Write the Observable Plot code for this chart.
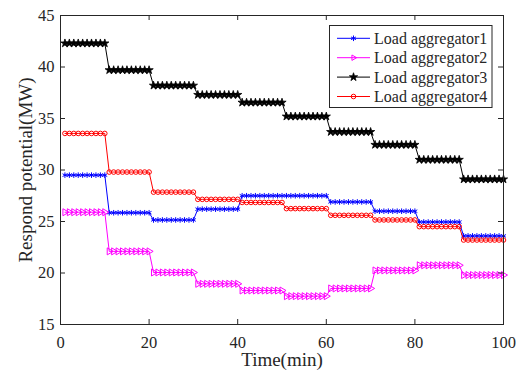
<!DOCTYPE html>
<html><head><meta charset="utf-8">
<script src="https://cdn.jsdelivr.net/npm/d3@7"></script>
<script src="https://cdn.jsdelivr.net/npm/@observablehq/plot@0.6"></script>
<style>body{margin:0;background:#fff}</style>
</head><body><div id="chart"></div>
<script>
const seriesNames = ["Load aggregator1","Load aggregator2","Load aggregator3","Load aggregator4"];
const seriesColors = ["#0000ff","#ff00ff","#000000","#ff0000"];
// level held over each 10-minute interval (minutes 1-10, 11-20, ..., 91-100)
const agg1Levels = [29.5,25.85,25.15,26.2,27.5,27.5,26.9,26.0,24.95,23.6];
const agg2Levels = [25.9,22.1,20.05,18.95,18.3,17.75,18.5,20.25,20.75,19.8];
const agg3Levels = [42.3,39.7,38.2,37.3,36.55,35.2,33.7,32.45,31.0,29.1];
const agg4Levels = [33.55,29.8,27.85,27.15,26.85,26.25,25.6,25.15,24.5,23.2];
const minutes = d3.range(1, 101);
const xTicks = [0,20,40,60,80,100];
const yTicks = [15,20,25,30,35,40,45];
const xLabel = "Time(min)";
const yLabel = "Respond potential(MW)";

const levels = [agg1Levels, agg2Levels, agg3Levels, agg4Levels];
const series = levels.map((lv, i) => minutes.map(t => ({t, v: lv[Math.floor((t - 1) / 10)], s: seriesNames[i]})));

const W = 524, H = 375, mt = 15, mr = 21, mb = 51, ml = 60;
const pw = W - ml - mr, ph = H - mt - mb;
const axisColor = "#262626";
const font = "'Liberation Serif','Times New Roman',serif";

const symbolOpts = [
  {symbol: "asterisk", r: 2.6, stroke: seriesColors[0], fill: "none", strokeWidth: 1},
  {symbol: "triangle", r: 2.6, stroke: seriesColors[1], fill: "none", strokeWidth: 1, rotate: 90},
  {symbol: "star", r: 2.6, stroke: seriesColors[2], fill: seriesColors[2], strokeWidth: 0.8},
  {symbol: "circle", r: 2.3, stroke: seriesColors[3], fill: "none", strokeWidth: 1}
];

const marks = [];
series.forEach((d, i) => {
  marks.push(Plot.line(d, {x: "t", y: "v", stroke: seriesColors[i], strokeWidth: 1}));
  marks.push(Plot.dot(d, {x: "t", y: "v", ...symbolOpts[i]}));
});

const plot = Plot.plot({
  width: W, height: H,
  marginTop: mt, marginRight: mr, marginBottom: mb, marginLeft: ml,
  style: {fontFamily: font, background: "#fff", color: axisColor},
  x: {domain: [0, 100]},
  y: {domain: [15, 45]},
  marks: [
    ...marks,
    Plot.frame({stroke: axisColor, strokeWidth: 1}),
    Plot.tickX(xTicks, {x: d => d, insetTop: ph - 5, stroke: axisColor}),
    Plot.tickX(xTicks, {x: d => d, insetBottom: ph - 5, stroke: axisColor}),
    Plot.tickY(yTicks, {y: d => d, insetRight: pw - 5, stroke: axisColor}),
    Plot.tickY(yTicks, {y: d => d, insetLeft: pw - 5, stroke: axisColor}),
    Plot.axisX({ticks: xTicks, tickSize: 0, tickPadding: 12, fontSize: 16.5, label: null, tickFormat: d => String(d)}),
    Plot.axisY({ticks: yTicks, tickSize: 0, tickPadding: 6, fontSize: 16.5, label: null, tickFormat: d => String(d)}),
    Plot.text([xLabel], {text: d => d, frameAnchor: "bottom", dy: 41, fontSize: 19, fill: axisColor, textAnchor: "middle"}),
    Plot.text([yLabel], {text: d => d, frameAnchor: "left", dx: -35, rotate: -90, fontSize: 19, fill: axisColor, textAnchor: "middle"})
  ]
});

// legend
const svg = d3.select(plot);
const lg = svg.append("g").attr("font-family", font).attr("font-size", 16).attr("text-anchor", "start");
lg.append("rect").attr("x", 329.5).attr("y", 25.5).attr("width", 162.5).attr("height", 82)
  .attr("fill", "#fff").attr("stroke", axisColor).attr("stroke-width", 1);
const symTypes = [d3.symbolAsterisk, d3.symbolTriangle2, d3.symbolStar, d3.symbolCircle];
seriesNames.forEach((name, i) => {
  const y = 38.3 + i * 19.4;
  lg.append("line").attr("x1", 337).attr("x2", 370).attr("y1", y).attr("y2", y)
    .attr("stroke", seriesColors[i]).attr("stroke-width", 1);
  const o = symbolOpts[i];
  lg.append("path").attr("d", d3.symbol(symTypes[i], Math.PI * o.r * o.r)())
    .attr("transform", `translate(353.5,${y})${o.rotate ? " rotate(" + o.rotate + ")" : ""}`)
    .attr("fill", o.fill).attr("stroke", o.stroke).attr("stroke-width", o.strokeWidth);
  lg.append("text").attr("x", 374).attr("y", y).attr("dy", "0.35em").attr("fill", axisColor).text(name);
});

document.getElementById("chart").appendChild(plot);
</script>
</body></html>
